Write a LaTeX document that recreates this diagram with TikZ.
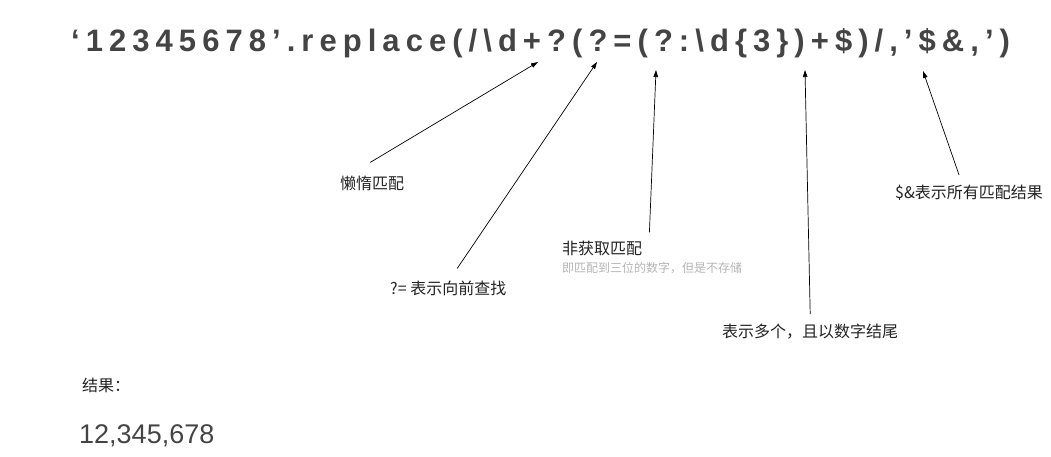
\documentclass[tikz,border=0pt]{standalone}
\usepackage{fontspec}
\usetikzlibrary{arrows.meta}
\setmainfont{Liberation Sans}
\newfontfamily\codefont[LetterSpace=19.5]{Liberation Sans}
\newfontfamily\cjk{Noto Sans CJK SC}
\definecolor{codegray}{HTML}{444444}
\definecolor{notegray}{HTML}{222222}
\definecolor{subgray}{HTML}{B4B4B4}
\tikzset{
  note/.style={anchor=west, inner sep=0pt, text=notegray, font=\cjk\fontsize{16}{19}\selectfont},
  subnote/.style={anchor=west, inner sep=0pt, text=subgray, font=\cjk\fontsize{12}{14}\selectfont},
  pointer/.style={-{Triangle[length=7pt,width=4.5pt]}, line width=0.7pt, black}
}
\begin{document}
\begin{tikzpicture}[x=1pt, y=-1pt]
    \useasboundingbox (0,0) rectangle (1051,457);

    % The regex expression
    \node[anchor=base west, inner sep=0pt, text=codegray, font=\codefont\bfseries\fontsize{31}{36}\selectfont]
        (code) at (71,52) {‘12345678’.replace(/\textbackslash d+?(?=(?:\textbackslash d\{3\})+\$)/,’\$\&,’)};

    % Points in the expression
    \coordinate (lazytip) at (538,62);
    \coordinate (aheadtip) at (597,62);
    \coordinate (nongettip) at (656,70);
    \coordinate (endtip) at (805,70);
    \coordinate (alltip) at (923,71);

    % Notes
    \node[note] (lazy) at (340,183) {懒惰匹配};
    \node[note] (ahead) at (390,288) {?= 表示向前查找};
    \node[note] (nonget) at (562,248) {非获取匹配};
    \node[subnote] (nongetsub) at (562,268) {即匹配到三位的数字，但是不存储};
    \node[note] (ending) at (722,332) {表示多个，且以数字结尾};
    \node[note] (all) at (895,193) {\$\&表示所有匹配结果};

    % Pointers
    \draw[pointer] ([shift={(-2,-13)}]lazy.north) -- (lazytip);
    \draw[pointer] ([shift={(9,-12)}]ahead.north) -- (aheadtip);
    \draw[pointer] ([shift={(7,-8)}]nonget.north east) -- (nongettip);
    \draw[pointer] ([shift={(0,-10)}]ending.north) -- (endtip);
    \draw[pointer] ([shift={(-10,-10)}]all.north) -- (alltip);

    % Result
    \node[note] (resultlabel) at (82,385) {结果：};
    \node[anchor=base west, inner sep=0pt, text=codegray, font=\fontsize{27}{31}\selectfont]
        (result) at (79,443) {12,345,678};
\end{tikzpicture}
\end{document}
